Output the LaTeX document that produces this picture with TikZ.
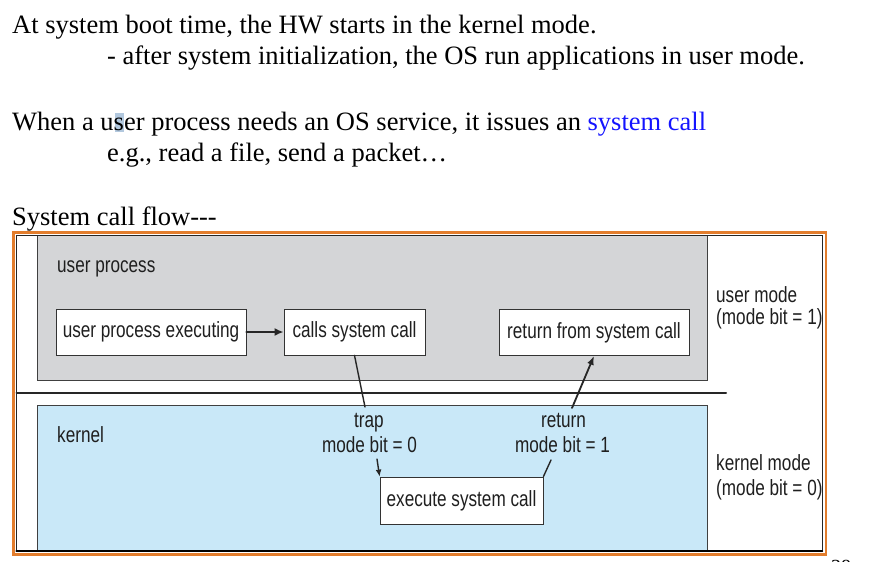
\documentclass[tikz,border=0pt]{standalone}
\usepackage{fontspec}
\setmainfont{Liberation Serif}
\newfontfamily\figsans[FakeStretch=0.78]{Liberation Sans}
\usetikzlibrary{arrows.meta}
\definecolor{userfill}{RGB}{212,213,215}
\definecolor{kernfill}{RGB}{201,232,248}
\definecolor{frameorange}{RGB}{226,125,45}
\definecolor{callblue}{RGB}{20,20,255}
\definecolor{selblue}{RGB}{178,200,222}
\tikzset{
	slide/.style={anchor=base west,inner sep=0pt,font=\fontsize{26.5}{31}\selectfont},
	lbl/.style={anchor=base west,inner sep=0pt,text=black!88,font=\figsans\fontsize{22}{26}\selectfont},
	midlbl/.style={lbl,anchor=base},
	stepbox/.style={draw=black!80,fill=white,line width=0.8pt,minimum height=46pt,inner sep=0pt,text=black!88,font=\figsans\fontsize{22}{26}\selectfont},
	flow/.style={line width=1.4pt,black!85},
}
\begin{document}
\begin{tikzpicture}[x=1pt,y=-1pt,line cap=round]
		\useasboundingbox (0,0) rectangle (873,562);
		% text above the figure
		\fill[selblue] (115,113) rectangle (124,132);
		\node[slide] (l1) at (12,33) {At system boot time, the HW starts in the kernel mode.};
		\node[slide] (l2) at (107,64) {- after system initialization, the OS run applications in user mode.};
		\node[slide] (l3) at (12,130) {When a user process needs an OS service, it issues an \textcolor{callblue}{system call}};
		\node[slide] (l4) at (107,161) {e.g., read a file, send a packet…};
		\node[slide] (l5) at (12,225) {System call flow-\kern0pt-\kern0pt-};
		\node[anchor=base west,inner sep=0pt,font=\fontsize{20}{24}\selectfont] (pg) at (831,573) {38};
		% figure frame
		\draw[frameorange,line width=2.5pt] (13.5,232.5) rectangle (826,554.5);
		\fill[white] (16.5,235) rectangle (822,551.5);
		% user and kernel regions
		\draw[fill=userfill,draw=black!75,line width=0.7pt] (37,235) rectangle (707,380);
		\draw[fill=kernfill,draw=black!75,line width=0.7pt] (37,405) rectangle (707,550);
		\draw[black!85,line width=2pt] (16.5,393) -- (726,393);
		\draw[black!85,line width=1pt] (16.5,235) rectangle (822,551.5);
		\draw[black,line width=2.5pt] (16.5,551) -- (822,551);
		% region labels
		\node[lbl] (uproc) at (57,272) {user process};
		\node[lbl] (kern) at (57,442) {kernel};
		\node[lbl] (umode) at (716,302) {user mode};
		\node[lbl] (ubit) at (716,324) {(mode bit = 1)};
		\node[lbl] (kmode) at (716,470) {kernel mode};
		\node[lbl] (kbit) at (716,495) {(mode bit = 0)};
		% steps
		\node[stepbox,minimum width=190pt] (exe) at (151,332) {user process executing};
		\node[stepbox,minimum width=141pt] (call) at (354.5,332) {calls system call};
		\node[stepbox,minimum width=190pt] (ret) at (594,332.5) {return from system call};
		\node[stepbox,minimum width=163pt,minimum height=47pt] (exec) at (461.5,500.5) {execute system call};
		% mode switch labels
		\node[midlbl] (trap) at (369,427) {trap};
		\node[midlbl] (trapbit) at (369.5,452) {mode bit = 0};
		\node[midlbl] (back) at (563.5,427) {return};
		\node[midlbl] (backbit) at (562.5,452) {mode bit = 1};
		\coordinate (trapend) at (365,407);
		\coordinate (trapin) at (377,459);
		\coordinate (retout) at (551,460);
		\coordinate (retin) at (572,408);
		% connectors
		\draw[flow,line width=2.2pt,-{Latex[length=9pt,width=8pt]}] (exe) -- (call);
		\draw[flow] (call.south) -- (trapend);
		\draw[flow,-{Latex[length=7pt,width=6pt]}] (trapin) -- (exec.north west);
		\draw[flow] (exec.north east) -- (retout);
		\draw[flow,line width=1.8pt,-{Latex[length=9pt,width=7pt]}] (retin) -- (ret.south);
	\end{tikzpicture}
\end{document}
